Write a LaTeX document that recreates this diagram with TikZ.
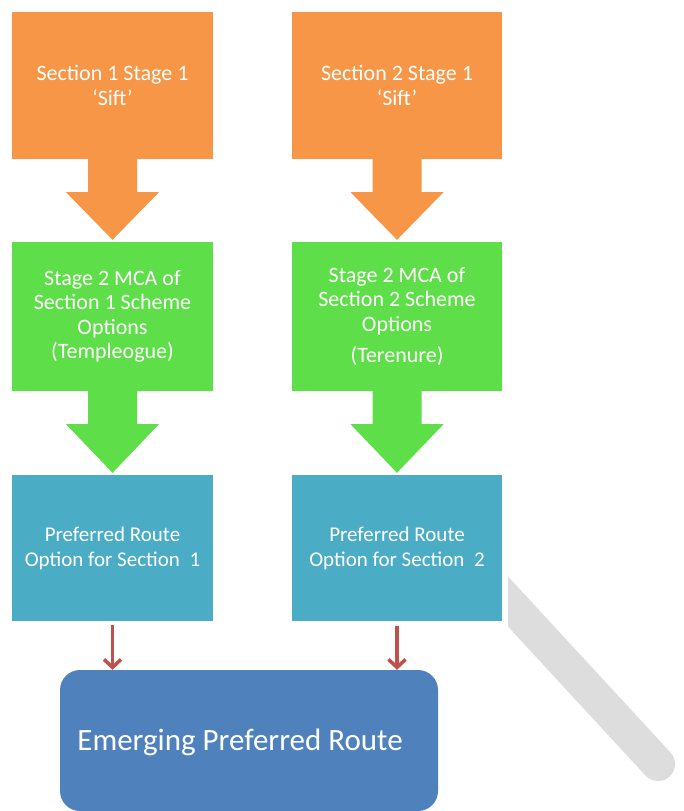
\documentclass[tikz,border=0pt]{standalone}
\usepackage{fontspec}
\setmainfont{Carlito}
\usetikzlibrary{calc,arrows.meta}
\definecolor{orangeF}{RGB}{247,150,70}
\definecolor{greenF}{RGB}{94,222,72}
\definecolor{aquaF}{RGB}{75,172,198}
\definecolor{blueF}{RGB}{79,129,189}
\definecolor{redF}{RGB}{192,80,77}
\definecolor{grayF}{RGB}{221,221,221}
\newcommand\blockarrow[3]{%
  \fill[#3] ($(#1.south)+(-24.5,-1)$) -- ($(#1.south)+(-24.5,33)$) -- ($(#1.south)+(-46.5,33)$)
    -- ($(#2.north)+(0,-2)$) -- ($(#1.south)+(46.5,33)$) -- ($(#1.south)+(24.5,33)$)
    -- ($(#1.south)+(24.5,-1)$) -- cycle;}
\begin{document}
\begin{tikzpicture}[x=1pt,y=-1pt,
  box/.style={rectangle, inner sep=0pt, text=white, align=center,
    font=\fontsize{22}{24.5}\selectfont},
  redarrow/.style={draw=redF, line width=3.5pt, -{Straight Barb[length=8pt,width=17pt]}}]
\useasboundingbox (0,0) rectangle (683,811);
\fill[white] (0,0) rectangle (683,811);
% grey stripe
\begin{scope}
  \clip (508,0) rectangle (683,811);
  \draw[grayF, line width=34pt, line cap=round] (490,582) -- (658,764);
\end{scope}
% row 1
\node[box, fill=orangeF, minimum width=201pt, minimum height=147pt] (o1) at (112.5,85.5)
  {Section 1 Stage 1\\‘Sift’};
\node[box, fill=orangeF, minimum width=210pt, minimum height=147pt] (o2) at (397,85.5)
  {Section 2 Stage 1\\‘Sift’};
% row 2
\node[box, fill=greenF, minimum width=201pt, minimum height=149pt] (g1) at (112.5,316.5)
  {Stage 2 MCA of\\Section 1 Scheme\\Options\\(Templeogue)};
\node[box, fill=greenF, minimum width=210pt, minimum height=149pt] (g2) at (397,316.5)
  {Stage 2 MCA of\\Section 2 Scheme\\Options\\[7pt](Terenure)};
% row 3
\node[box, fill=aquaF, minimum width=201pt, minimum height=146pt,
  font=\fontsize{21}{25}\selectfont] (b1) at (112.5,548)
  {Preferred Route\\Option for Section\ \ 1};
\node[box, fill=aquaF, minimum width=210pt, minimum height=146pt,
  font=\fontsize{21}{25}\selectfont] (b2) at (397,548)
  {Preferred Route\\Option for Section\ \ 2};
% final
\node[box, fill=blueF, rounded corners=20pt, minimum width=378pt, minimum height=141pt] (e) at (249,740.5) {};
\node[text=white, font=\fontsize{31}{36}\selectfont, inner sep=0pt] (et) at (240,742) {Emerging Preferred Route};
% block arrows
\blockarrow{o1}{g1}{orangeF}
\blockarrow{o2}{g2}{orangeF}
\blockarrow{g1}{b1}{greenF}
\blockarrow{g2}{b2}{greenF}
% red arrows
\draw[redarrow] ($(b1.south)+(0,4)$) -- (b1.south |- e.north);
\draw[redarrow] ($(b2.south)+(0,5)$) -- (b2.south |- e.north);
\end{tikzpicture}
\end{document}
